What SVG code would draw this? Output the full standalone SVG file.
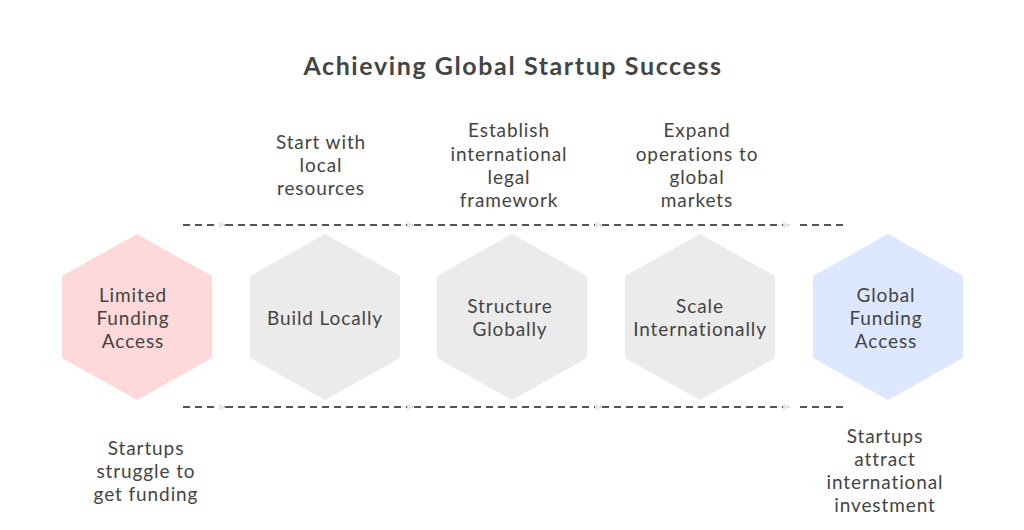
<svg xmlns="http://www.w3.org/2000/svg" width="1024" height="530" viewBox="0 0 1024 530">
<defs>
<style>
text{font-family:"Lato","Noto Sans",sans-serif;fill:#444;text-anchor:middle;font-size:19px;letter-spacing:0.9px}
.title{font-size:25px;font-weight:bold;letter-spacing:1.6px}
.c{stroke:#555;stroke-width:2;stroke-dasharray:7 5;fill:none}
</style>
<marker id="ah" viewBox="0 0 10 10" refX="10" refY="5" markerWidth="7" markerHeight="10" markerUnits="userSpaceOnUse" orient="auto">
<path d="M0,0 L10,5 L0,10 Z" fill="#e6e6e6"/>
</marker>
</defs>
<rect width="1024" height="530" fill="#fff"/>
<text class="title" x="513" y="75">Achieving Global Startup Success</text>
<g id="connectors">
<line class="c" x1="183" y1="225" x2="226" y2="225" marker-end="url(#ah)"/>
<line class="c" x1="226" y1="225" x2="414" y2="225" marker-end="url(#ah)"/>
<line class="c" x1="414" y1="225" x2="602" y2="225" marker-end="url(#ah)"/>
<line class="c" x1="602" y1="225" x2="790" y2="225" marker-end="url(#ah)"/>
<line class="c" x1="800" y1="225" x2="843" y2="225"/>
<line class="c" x1="183" y1="407" x2="226" y2="407" marker-end="url(#ah)"/>
<line class="c" x1="226" y1="407" x2="414" y2="407" marker-end="url(#ah)"/>
<line class="c" x1="414" y1="407" x2="602" y2="407" marker-end="url(#ah)"/>
<line class="c" x1="602" y1="407" x2="790" y2="407" marker-end="url(#ah)"/>
<line class="c" x1="800" y1="407" x2="843" y2="407"/>
</g>
<g id="n1">
<polygon points="137,234 212,276 212,358 137,400 62,358 62,276" fill="#fdd9d9"/>
<text x="133" y="302">Limited</text><text x="133" y="325">Funding</text><text x="133" y="348">Access</text>
</g>
<g id="n2">
<polygon points="325,234 400,276 400,358 325,400 250,358 250,276" fill="#ebebeb"/>
<text x="325" y="325">Build Locally</text>
</g>
<g id="n3">
<polygon points="512,234 587,276 587,358 512,400 437,358 437,276" fill="#ebebeb"/>
<text x="510" y="313">Structure</text><text x="510" y="336">Globally</text>
</g>
<g id="n4">
<polygon points="700,234 775,276 775,358 700,400 625,358 625,276" fill="#ebebeb"/>
<text x="700" y="313">Scale</text><text x="700" y="336">Internationally</text>
</g>
<g id="n5">
<polygon points="888,234 963,276 963,358 888,400 813,358 813,276" fill="#dde7ff"/>
<text x="886" y="302">Global</text><text x="886" y="325">Funding</text><text x="886" y="348">Access</text>
</g>
<g id="l1">
<text x="321" y="149">Start with</text><text x="321" y="172">local</text><text x="321" y="195">resources</text>
</g>
<g id="l2">
<text x="509" y="137">Establish</text><text x="509" y="161">international</text><text x="509" y="184">legal</text><text x="509" y="207">framework</text>
</g>
<g id="l3">
<text x="697" y="137">Expand</text><text x="697" y="161">operations to</text><text x="697" y="184">global</text><text x="697" y="207">markets</text>
</g>
<g id="l4">
<text x="146" y="455">Startups</text><text x="146" y="478">struggle to</text><text x="146" y="501">get funding</text>
</g>
<g id="l5">
<text x="885" y="443">Startups</text><text x="885" y="466">attract</text><text x="885" y="489">international</text><text x="885" y="512">investment</text>
</g>
</svg>
